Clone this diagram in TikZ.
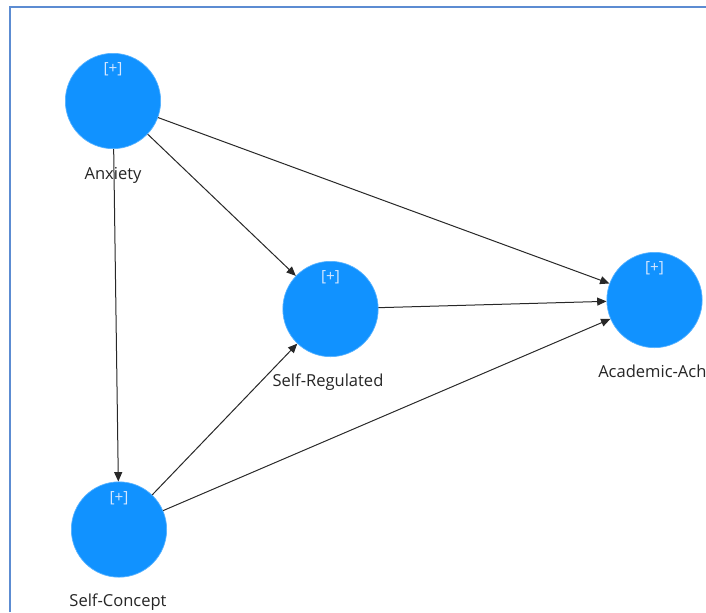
\documentclass[tikz,border=0pt]{standalone}
\usepackage{fontspec}
\setmainfont{Open Sans}
\usetikzlibrary{arrows.meta}
\definecolor{lvfill}{RGB}{17,146,255}
\definecolor{lvmark}{RGB}{214,232,255}
\definecolor{framecol}{RGB}{92,140,210}
\definecolor{pathcol}{RGB}{40,40,40}
\tikzset{
  latent/.style={circle, fill=lvfill, draw=lvfill!70!white, line width=0.5pt,
    minimum size=71.5pt, inner sep=0pt},
  expand/.style={text=lvmark, font=\fontsize{11.5}{13}\selectfont, inner sep=0pt},
  lvlabel/.style={text=black!85, font=\fontsize{12.4}{14}\selectfont, inner sep=0pt, anchor=base},
  path/.style={draw=pathcol, line width=0.75pt, -{Triangle[length=7pt,width=6pt]}}
}
\begin{document}
\begin{tikzpicture}[x=0.75pt,y=-0.75pt]
\useasboundingbox (0,0) rectangle (706,612);
\clip (0,0) rectangle (706,612);
\fill[white] (0,0) rectangle (706,612);
% canvas frame
\draw[framecol, line width=1.1pt] (10,612) -- (10,7) -- (706,7);

% latent variables
\node[latent] (anx) at (113,101) {};
\node[latent] (sc)  at (119,529.5) {};
\node[latent] (sr)  at (330.5,309) {};
\node[latent] (aa)  at (654.5,300) {};

% structural paths
\draw[path] (anx) -- (sc);
\draw[path] (anx) -- (sr);
\draw[path] (anx) -- (aa);
\draw[path] (sr) -- (aa);
\draw[path] (sc) -- (sr);
\draw[path] (sc) -- (aa);

% expand markers
\foreach \n in {anx,sc,sr,aa}
  \node[expand] (\n-mark) at ([yshift=23.5pt]\n.center) {[+]};

% labels
\node[lvlabel] (anx-lab) at (113,179) {Anxiety};
\node[lvlabel] (sc-lab)  at (118,606) {Self-Concept};
\node[lvlabel] (sr-lab)  at (328,386) {Self-Regulated};
\node[lvlabel, anchor=base west] (aa-lab) at (598,377) {Academic-Ach};
\end{tikzpicture}
\end{document}
